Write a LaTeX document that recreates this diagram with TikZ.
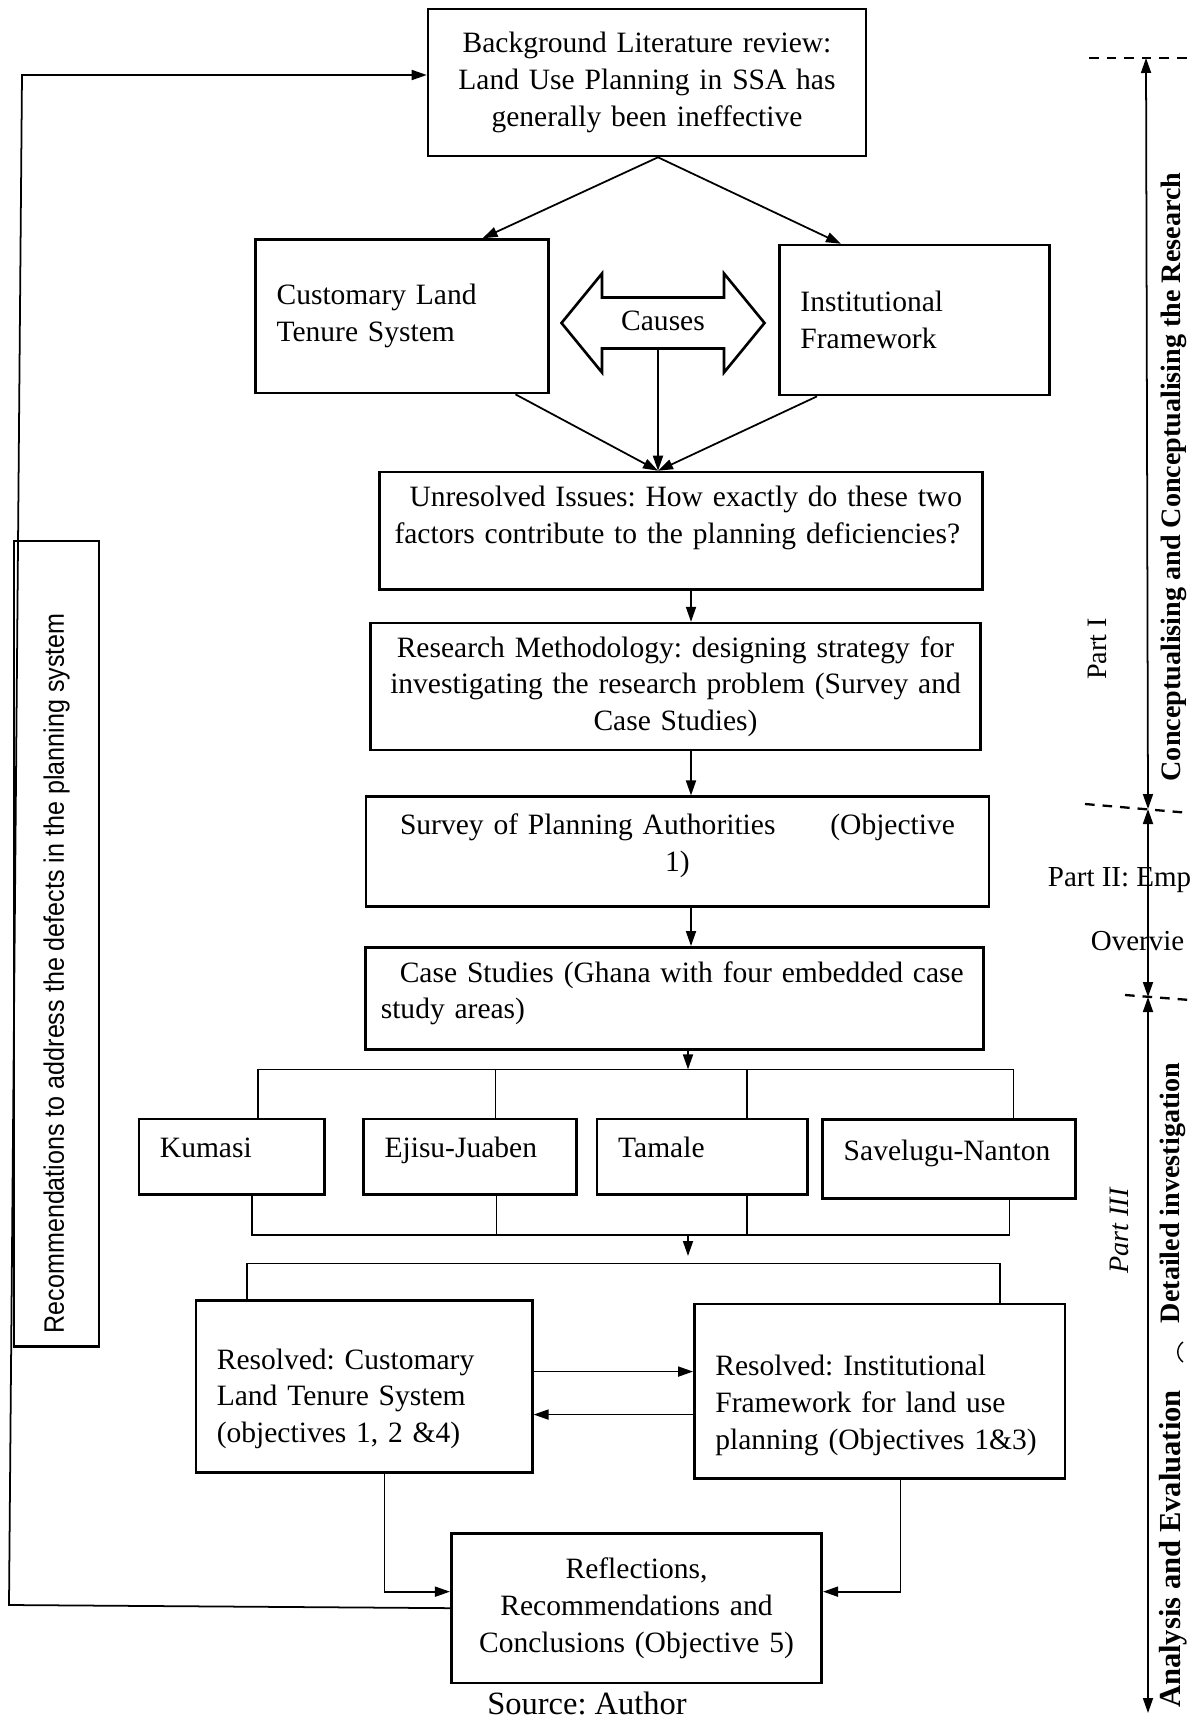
\documentclass[tikz,border=0pt]{standalone}
\usepackage{fontspec}
\setmainfont{Liberation Serif}
\newfontfamily\recomfont{Liberation Sans}
\usetikzlibrary{positioning,arrows.meta}
\frenchspacing

\begin{document}
\begin{tikzpicture}[x=0.02cm, y=-0.02cm, line width=1pt,
    >={Triangle[length=0.3cm,width=0.2cm]},
    font=\fontsize{16.8}{21}\selectfont,
    block/.style={draw, rectangle, line width=1.5pt, inner xsep=0.42cm, inner ysep=0pt, align=center},
    place/.style={block, align=left, minimum height=1.51cm, execute at end node={\rule[-0.36cm]{0pt}{0pt}}},
    strip/.style={rotate=90, inner sep=0pt, font=\fontsize{16}{19}\selectfont\bfseries},
    partline/.style={dashed, line width=1.3pt, dash pattern=on 5.5pt off 4.5pt}]
    \useasboundingbox (0,0) rectangle (1190,1720);

    % main column
    \node[block, text width=7.92cm, minimum height=2.94cm] (bg) at (647,82.5) {Background Literature review:\\Land Use Planning in SSA has\\generally been ineffective};
    \node[block, align=left, text width=5.02cm, minimum height=3.07cm, below=1.62cm of bg, xshift=-4.9cm] (cust) {Customary Land\\Tenure System};
    \node[block, align=left, text width=4.56cm, minimum height=3cm, below=1.73cm of bg, xshift=5.35cm] (inst) {Institutional\\Framework};
    \node[inner sep=0pt] (causes) at (663,321) {Causes};
    \draw[line width=1.5pt, shift={(663,323)}] (-101.5,0) -- (-61,-49.5) -- (-61,-25.5) -- (61,-25.5) -- (61,-49.5) -- (101.5,0)
        -- (61,49.5) -- (61,25.5) -- (-61,25.5) -- (-61,49.5) -- cycle;
    \node[block, align=left, inner xsep=0.3cm, text width=11.46cm, minimum height=2.35cm, below=6.27cm of bg, xshift=0.68cm] (unres) {\hspace*{0.3cm}Unresolved Issues: How exactly do these two\\\mbox{factors contribute to the planning deficiencies?}\rule[-0.65cm]{0pt}{0pt}};
    \node[block, inner xsep=0.3cm, text width=11.6cm, minimum height=2.54cm, below=0.62cm of unres, xshift=-0.11cm] (method) {Research Methodology: designing strategy for\\\mbox{investigating the research problem (Survey and}\\Case Studies)};
    \node[block, text width=11.62cm, minimum height=2.19cm, below=0.88cm of method, xshift=0.04cm] (survey) {\makebox[11.1cm]{Survey of Planning Authorities\hfill(Objective}\\1)\rule[-0.37cm]{0pt}{0pt}};
    \node[block, align=left, inner xsep=0.3cm, text width=11.75cm, minimum height=2.04cm, below=0.77cm of survey, xshift=-0.06cm] (cases) {\mbox{\hspace*{0.38cm}Case Studies (Ghana with four embedded case}\\study areas)\rule[-0.33cm]{0pt}{0pt}};

    % case study areas
    \node[place, text width=3.42cm, below=1.34cm of cases, xshift=-4.09cm] (ejisu) {\mbox{Ejisu-Juaben}};
    \node[place, text width=2.87cm, left=0.73cm of ejisu] (kumasi) {Kumasi};
    \node[place, text width=3.37cm, right=0.36cm of ejisu] (tamale) {Tamale};
    \node[place, text width=4.21cm, minimum height=1.58cm, right=0.25cm of tamale, yshift=-0.05cm] (savelugu) {\mbox{Savelugu-Nanton}};

    % results
    \node[block, align=left, text width=5.89cm, minimum height=3.44cm, below=2.07cm of ejisu, xshift=-2.12cm] (rescust) {\rule{0pt}{0.9cm}Resolved: Customary\\Land Tenure System\\(objectives 1, 2 \&4)};
    \node[block, align=left, text width=6.57cm, minimum height=3.49cm, right=3.19cm of rescust, yshift=-0.09cm] (resinst) {\rule{0pt}{0.98cm}Resolved: Institutional\\Framework for land use\\planning (Objectives 1\&3)};
    \node[block, text width=6.57cm, minimum height=3cm, below=1.16cm of rescust, xshift=5.45cm] (refl) {Reflections,\\Recommendations and\\Conclusions (Objective 5)};
    \node[font=\fontsize{18.5}{22}\selectfont] (source) at (587,1703) {Source: Author};

    % feedback box
    \node[draw, line width=1.5pt, rotate=90, inner sep=0pt, minimum width=16.12cm, minimum height=1.7cm] (recom) at (56.5,943.8) {\recomfont\fontsize{16}{19}\selectfont\scalebox{0.893}[1]{Recommendations to address the defects in the planning system}\hspace*{1.18cm}};

    % connectors
    \coordinate (spine) at (691,0);
    \coordinate (causebase) at (658,348.5);
    \coordinate (join) at (causebase |- unres.north);
    \draw[->] ([xshift=0.22cm]bg.south) -- ([xshift=1.61cm]cust.north);
    \draw[->] ([xshift=0.22cm]bg.south) -- ([xshift=-1.47cm]inst.north);
    \draw[->] ([xshift=2.27cm]cust.south) -- (join);
    \draw[->] ([xshift=-1.95cm]inst.south) -- (join);
    \draw[->] (causebase) -- (join);
    \draw[->] (spine |- unres.south) -- (spine |- method.north);
    \draw[->] (spine |- method.south) -- (spine |- survey.north);
    \draw[->] (spine |- survey.south) -- (spine |- cases.north);

    \coordinate (topbus) at (688,1069.4);
    \coordinate (k1) at ([xshift=0.52cm]kumasi.north);
    \coordinate (e1) at ([xshift=0.51cm]ejisu.north);
    \coordinate (t1) at ([xshift=0.9cm]tamale.north);
    \coordinate (s1) at ([xshift=1.29cm]savelugu.north);
    \draw[->] (topbus |- cases.south) -- (topbus);
    \draw (k1) |- (s1 |- topbus) -- (s1);
    \draw (e1) -- (e1 |- topbus);
    \draw (t1) -- (t1 |- topbus);

    \coordinate (botbus) at (688,1235);
    \coordinate (k2) at ([xshift=0.41cm]kumasi.south);
    \coordinate (e2) at ([xshift=0.53cm]ejisu.south);
    \coordinate (t2) at ([xshift=0.9cm]tamale.south);
    \coordinate (s2) at ([xshift=1.21cm]savelugu.south);
    \draw (k2) |- (s2 |- botbus) -- (s2);
    \draw (e2) -- (e2 |- botbus);
    \draw (t2) -- (t2 |- botbus);
    \coordinate (resend) at (688,1256);
    \draw[->] (botbus) -- (resend);

    \coordinate (resbus) at (0,1263.5);
    \coordinate (rc) at ([xshift=-2.34cm]rescust.north);
    \coordinate (ri) at ([xshift=2.41cm]resinst.north);
    \draw (rc) |- (ri |- resbus) -- (ri);

    \coordinate (fwd) at ([yshift=0.3cm]rescust.east);
    \coordinate (back) at ([yshift=-0.56cm]rescust.east);
    \draw[->] (fwd) -- (fwd -| resinst.west);
    \draw[<-] (back) -- (back -| resinst.west);

    \coordinate (rc2) at ([xshift=0.41cm]rescust.south);
    \coordinate (ri2) at ([xshift=0.42cm]resinst.south);
    \coordinate (reflin) at ([yshift=0.33cm]refl.center);
    \draw[->] (rc2) |- (reflin -| refl.west);
    \draw[->] (ri2) |- (reflin -| refl.east);

    \coordinate (loop bottom) at (9,1605);
    \coordinate (loop top) at (22,75);
    \draw[->] (refl.west) -- (loop bottom) -- (loop top) -- (loop top -| bg.west);

    % parts of the study
    \coordinate (p0) at (1146,58);
    \coordinate (p1) at (1148,809);
    \coordinate (p2) at (1148,997);
    \coordinate (p3) at (1148,1713);
    \draw[partline] (1089,58) -- (1190,58);
    \draw[partline] (1085,804) -- (1190,813);
    \draw[partline] (1125,995) -- (1190,1000);
    \draw[<->] (p0) -- (p1);
    \draw[<->] (p1) -- (p2);
    \draw[<->] (p2) -- (p3);

    \node[strip] (concept) at (1174,477) {Conceptualising and Conceptualising the Research};
    \node[rotate=90, inner sep=0pt, font=\fontsize{16}{19}\selectfont] (partone) at (1097,649) {Part I};
    \node[anchor=west, inner sep=0pt, font=\fontsize{16.5}{19}\selectfont] (parttwo) at (1047,880) {Part II: Emp};
    \node[anchor=west, inner sep=0pt, font=\fontsize{16.5}{19}\selectfont] (overview) at (1090,941) {Overvie};
    \node[strip] (detail) at (1173,1193) {Detailed investigation};
    \node[rotate=90, inner sep=0pt, font=\fontsize{16}{19}\selectfont\itshape] (partthree) at (1119,1231) {Part III};
    \node[strip, font=\fontsize{17.4}{20}\selectfont\bfseries] (analysis) at (1173,1549) {Analysis and Evaluation};
    \draw[line width=0.8pt] (1183,1342) .. controls (1176,1347) and (1176,1357) .. (1183,1362);
\end{tikzpicture}
\end{document}
